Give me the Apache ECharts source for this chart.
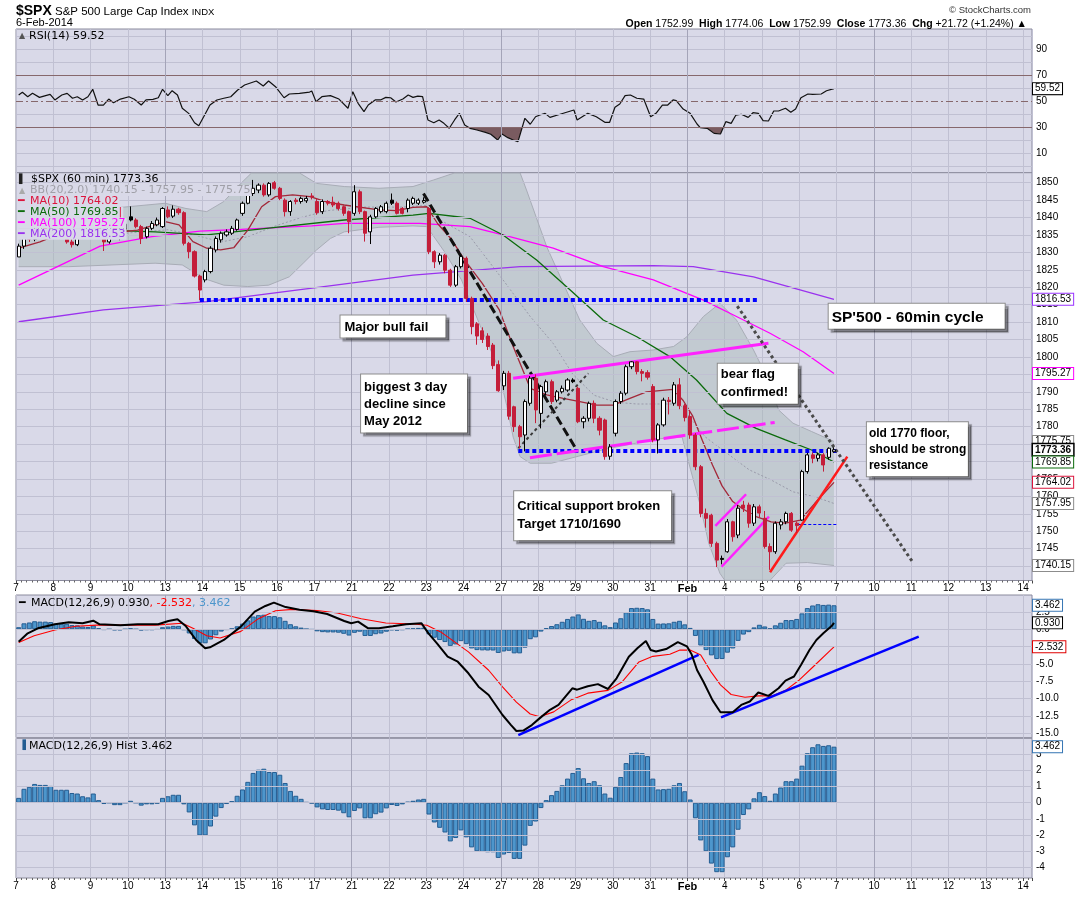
<!DOCTYPE html>
<html>
<head>
<meta charset="utf-8">
<title>$SPX 60 min</title>
<script src="https://cdn.jsdelivr.net/npm/echarts@6.0.0/dist/echarts.min.js"></script>
<style>
html,body{margin:0;padding:0;background:#ffffff;}
#chart{width:1075px;height:897px;}
</style>
</head>
<body>
<div id="chart"></div>
<script>
// ================= DATA =================
// x positions are hourly bar indexes (7 bars per trading day)
const dayLabels = ['7','8','9','10','13','14','15','16','17','21','22','23','24','27','28','29','30','31','Feb','4','5','6','7','10','11','12','13','14'];

// hourly candles [open, close, low, high]
const candles = [
  // Jan 7
  [1828.7,1831.8,1828.7,1832.5],[1831.8,1834.9,1831.0,1835.5],[1834.9,1833.8,1833.0,1836.0],[1833.8,1836.4,1833.2,1837.0],[1836.4,1839.2,1836.0,1840.1],[1839.2,1836.8,1836.2,1839.6],[1836.8,1837.9,1836.0,1838.5],
  // Jan 8
  [1837.9,1839.5,1837.2,1840.0],[1839.5,1836.0,1835.5,1839.8],[1836.0,1833.0,1832.5,1836.5],[1833.0,1832.2,1831.4,1834.0],[1832.2,1834.8,1831.8,1835.3],[1834.8,1836.0,1834.0,1836.8],[1836.0,1837.5,1835.5,1838.0],
  // Jan 9
  [1839.0,1841.5,1838.5,1843.2],[1841.5,1836.0,1835.5,1842.0],[1836.0,1833.0,1830.4,1836.5],[1833.0,1838.0,1832.5,1838.5],[1838.0,1834.8,1834.0,1838.8],[1834.8,1836.6,1833.5,1837.3],[1836.6,1838.1,1836.0,1838.8],
  // Jan 10
  [1840.2,1839.3,1838.9,1843.2],[1839.3,1837.4,1836.9,1839.8],[1837.4,1834.0,1832.4,1837.9],[1834.5,1836.9,1834.0,1837.4],[1836.9,1838.3,1836.4,1839.0],[1837.9,1839.3,1837.5,1840.0],[1837.4,1842.6,1837.0,1843.0],
  // Jan 13
  [1842.2,1840.2,1839.8,1843.2],[1840.4,1842.4,1839.9,1843.5],[1842.4,1841.4,1840.8,1842.8],[1841.4,1832.6,1832.0,1841.8],[1832.6,1830.2,1828.3,1833.0],[1830.2,1823.2,1822.8,1830.6],[1823.2,1819.2,1816.3,1823.6],
  // Jan 14
  [1822.1,1824.5,1821.4,1825.0],[1824.5,1831.2,1824.0,1831.8],[1830.7,1834.0,1830.0,1834.6],[1833.6,1835.5,1832.8,1836.0],[1835.0,1835.9,1834.5,1836.6],[1835.5,1836.9,1835.0,1837.6],[1836.6,1839.3,1836.2,1839.7],
  // Jan 15
  [1841.2,1844.1,1840.5,1844.6],[1844.1,1847.4,1843.8,1848.0],[1846.9,1848.4,1846.2,1850.8],[1847.9,1849.3,1847.0,1849.8],[1849.3,1846.5,1846.0,1849.8],[1846.5,1849.8,1846.0,1850.2],[1850.0,1848.4,1848.0,1850.5],
  // Jan 16
  [1848.4,1845.5,1845.0,1848.8],[1845.0,1841.7,1840.3,1845.5],[1841.7,1844.6,1840.5,1845.0],[1845.0,1844.6,1843.8,1845.6],[1844.6,1845.5,1844.0,1846.0],[1844.8,1845.5,1844.2,1846.2],[1846.2,1845.9,1845.2,1847.0],
  // Jan 17
  [1844.6,1841.4,1840.8,1845.5],[1841.7,1844.6,1841.0,1845.2],[1844.6,1844.1,1843.5,1845.0],[1844.4,1843.6,1843.0,1846.0],[1844.1,1842.6,1842.0,1844.6],[1843.1,1841.2,1840.5,1843.5],[1841.7,1838.8,1835.5,1842.0],
  // Jan 21
  [1841.2,1847.4,1840.5,1849.3],[1847.4,1841.7,1841.0,1848.0],[1841.7,1835.5,1833.1,1842.0],[1835.9,1840.2,1832.4,1840.8],[1840.2,1842.6,1839.8,1843.0],[1841.7,1843.1,1841.2,1843.6],[1841.7,1844.1,1841.2,1844.6],
  // Jan 22
  [1845.0,1844.1,1843.6,1846.9],[1844.1,1841.2,1840.9,1844.6],[1842.6,1841.2,1840.9,1843.0],[1842.6,1845.0,1841.5,1845.5],[1844.1,1845.5,1843.6,1846.0],[1844.1,1845.0,1843.6,1845.5],[1844.4,1844.9,1844.0,1845.8],
  // Jan 23
  [1842.6,1830.2,1829.5,1843.0],[1830.2,1827.3,1825.5,1830.6],[1827.3,1829.2,1826.5,1829.8],[1829.2,1824.9,1824.0,1829.6],[1824.9,1820.6,1820.1,1825.3],[1820.6,1825.9,1820.1,1826.4],[1825.9,1828.8,1825.4,1829.3],
  // Jan 24
  [1828.3,1816.8,1815.8,1828.8],[1816.8,1808.7,1806.5,1817.3],[1809.5,1806.0,1803.5,1810.0],[1807.5,1805.0,1804.0,1808.5],[1806.0,1803.0,1802.0,1806.8],[1803.4,1797.5,1796.5,1804.0],[1797.8,1790.3,1790.0,1799.0],
  // Jan 27
  [1791.7,1795.3,1790.5,1796.0],[1795.3,1783.0,1782.0,1796.0],[1785.7,1780.0,1778.5,1786.0],[1780.0,1777.1,1773.8,1780.5],[1777.6,1787.2,1772.9,1787.8],[1786.7,1793.9,1786.0,1794.5],[1793.9,1784.8,1781.0,1795.0],
  // Jan 28
  [1783.8,1791.5,1779.5,1792.0],[1790.0,1792.9,1789.0,1793.5],[1792.9,1787.2,1786.5,1793.5],[1787.6,1790.0,1787.0,1790.5],[1790.0,1791.0,1789.5,1791.8],[1790.5,1793.4,1790.0,1793.9],[1793.4,1792.9,1792.5,1793.9],
  // Jan 29
  [1791.0,1781.4,1781.0,1791.5],[1781.4,1782.4,1779.5,1783.0],[1782.4,1786.7,1781.5,1787.2],[1786.7,1782.4,1781.0,1787.5],[1782.4,1779.0,1777.5,1783.0],[1781.9,1771.4,1770.5,1782.3],[1771.5,1774.2,1770.5,1775.0],
  // Jan 30
  [1778.1,1787.2,1777.2,1787.8],[1787.2,1789.6,1786.5,1790.2],[1789.6,1797.2,1789.0,1797.8],[1797.2,1798.6,1796.5,1798.8],[1798.6,1795.8,1795.0,1798.8],[1795.8,1795.3,1793.0,1796.5],[1795.5,1794.2,1793.5,1796.2],
  // Jan 31
  [1791.5,1776.2,1775.5,1792.2],[1776.2,1780.5,1772.3,1781.0],[1780.5,1787.6,1780.0,1788.3],[1787.6,1787.2,1783.5,1788.5],[1786.7,1792.0,1786.0,1792.8],[1792.0,1786.0,1785.0,1793.9],[1786.0,1782.6,1781.5,1786.5],
  // Feb 3
  [1782.9,1777.6,1776.5,1784.8],[1777.6,1768.5,1767.5,1778.2],[1768.5,1755.1,1754.0,1769.0],[1755.1,1753.7,1751.0,1756.5],[1754.6,1746.5,1745.5,1755.0],[1746.5,1741.7,1739.7,1747.0],[1742.2,1741.9,1740.5,1743.0],
  // Feb 4
  [1744.1,1752.7,1743.8,1753.5],[1752.7,1748.4,1747.0,1753.0],[1748.9,1756.6,1748.0,1757.5],[1757.5,1756.6,1755.5,1758.7],[1757.5,1752.3,1751.0,1758.2],[1752.3,1757.0,1751.5,1757.8],[1757.0,1755.2,1754.0,1757.6],
  // Feb 5
  [1753.7,1745.6,1745.0,1755.8],[1745.6,1744.1,1738.9,1746.5],[1744.1,1752.3,1743.5,1752.8],[1751.8,1752.7,1750.5,1753.5],[1752.7,1755.1,1752.0,1755.6],[1755.1,1750.3,1749.8,1755.5],[1752.3,1751.6,1749.5,1752.8],
  // Feb 6
  [1753.2,1767.1,1753.0,1767.6],[1767.1,1771.9,1766.5,1772.5],[1771.9,1770.9,1769.5,1772.6],[1770.9,1771.9,1770.0,1772.5],[1771.9,1769.0,1767.1,1772.4],[1771.2,1773.8,1770.5,1774.06],[1772.8,1773.36,1772.5,1774.06]
];
// candles drawn black-filled (close below open but above previous close)
const blackCandles = [21, 70, 104, 132];

// overlays [bar index, value]
const ma10 = [[0,1831.2],[4,1833],[8,1835.5],[12,1835.5],[16,1836.5],[20,1836],[22.3,1836.4],[27.5,1838.8],[30.1,1837.9],[32.7,1833.1],[35.3,1831.2],[37.9,1830.7],[40.4,1831.4],[43,1836.4],[45.6,1843.1],[48.2,1846.0],[51.4,1846.5],[54.7,1846.0],[57.9,1844.4],[61.1,1843.6],[67.6,1842.2],[70.8,1842.0],[74,1842.9],[76.6,1843.1],[78.6,1838.3],[81.1,1834.0],[83.7,1827.8],[87,1821.1],[90.2,1813.5],[92.8,1803],[96,1791],[99.1,1789.1],[102.2,1788.1],[105.3,1787.2],[108.5,1786.2],[111.6,1786.2],[114.7,1788.1],[117.8,1790.0],[122.8,1790.7],[124.7,1787.5],[126.5,1783],[128.3,1776],[130.2,1769],[132,1763],[134,1758.5],[136,1756.3],[138.4,1754.2],[141.2,1752.7],[143.9,1752.3],[146.7,1753.2],[149.4,1758.0],[153,1764.02]];
const ma50 = [[0,1835.5],[16.5,1836.4],[25.6,1835.9],[35.3,1835.0],[48.2,1837.2],[61.1,1839.3],[74,1840.7],[77,1841.2],[84.7,1839.8],[90.9,1835.0],[97.2,1827.8],[103.5,1819.2],[109.7,1810.6],[116,1805.8],[122.2,1800.1],[127.2,1793.4],[132.9,1783.8],[138.4,1779.5],[143.9,1776.2],[148.8,1773.3],[153,1769.85]];
const ma100 = [[0,1820.6],[6,1825],[15.3,1831.8],[25,1834.5],[34,1836.1],[41.7,1836.6],[55,1837.6],[61.1,1838.3],[75.3,1838.3],[84.7,1837.4],[90.9,1835.0],[100.3,1831.2],[109.7,1825.9],[119.1,1822.1],[128.5,1816.3],[134.7,1811.6],[141,1806.8],[147.2,1801.5],[153,1795.27]];
const ma200 = [[0,1810.1],[15.9,1813.5],[35.3,1815.9],[54.7,1819.7],[74,1823.5],[94.1,1825.9],[119.1,1826.2],[126.6,1825.9],[137.9,1823.0],[153,1816.53]];
const bbUpper = [[0,1842.4],[9.4,1842.8],[19.1,1842.9],[27.5,1844.1],[31.4,1842.6],[35.3,1841.7],[38.5,1844.6],[41.7,1849.8],[43.7,1852.8],[52.7,1852.8],[55.9,1849.8],[61.1,1848.9],[67.6,1848.4],[74,1848.9],[77.9,1850.8],[81.8,1852.8],[94.1,1852.8],[95.3,1847.9],[99.1,1831.6],[102.2,1821.1],[105.3,1810.6],[108.5,1803.9],[111.6,1800.1],[114.7,1801.5],[119.1,1802.0],[122.9,1803.0],[125.4,1805.8],[128.5,1811.6],[131.6,1815.4],[134.7,1810.6],[137.9,1802.0],[140.4,1794.3],[142.6,1784.8],[145.3,1781.0],[148.8,1778.6],[153,1775.75]];
const bbLower = [[0,1825.9],[9.4,1825.9],[25.6,1826.9],[30.7,1826.4],[32.7,1824.5],[34.6,1822.6],[38.5,1820.6],[43,1820.2],[46.9,1820.6],[50.8,1823.0],[53.4,1826.9],[55.9,1830.7],[58.5,1834.0],[61.1,1835.9],[67.6,1837.2],[74,1837.6],[76.6,1837.4],[79.9,1830.2],[83.1,1822.1],[86.6,1809],[89.7,1798],[91.6,1786],[92.8,1777],[94.1,1771.4],[96,1769.5],[100,1769.5],[105,1771.5],[110,1773.5],[115,1775],[120,1776.5],[124.5,1777],[126.1,1767.6],[127.8,1758],[129.5,1746.5],[131.6,1737.9],[132.5,1735.9],[141,1735.9],[144,1740.8],[148,1741],[153,1740.15]];
const bbMiddle = [[0,1834],[10,1834.5],[20,1835.5],[28,1836.5],[33,1835],[38,1833],[43,1834.5],[48,1837.5],[53,1840],[58,1842],[65,1843],[72,1843],[77,1843.5],[79.1,1839.3],[84.7,1834.5],[90.9,1822.1],[96,1811.6],[100.3,1803.9],[104,1795],[108,1789],[112,1787],[116,1786.5],[120,1786.5],[124,1786.5],[128.8,1777.1],[132.9,1772.4],[137.1,1767.6],[141.2,1764.7],[145.3,1761.3],[149.4,1759.9],[153,1757.95]];

// RSI(14)
const rsi = [[0,54.6],[0.7,56.7],[1.7,53.3],[2.6,55.9],[3.9,52.8],[5.9,55.1],[6.8,50.8],[8.1,54.6],[9.1,55.9],[10.1,52.1],[11,53.3],[12,50.8],[13,53.3],[13.9,59.0],[14.9,46.9],[15.9,46.9],[16.9,51.5],[17.8,48.7],[19.1,51.5],[20.7,53.3],[21.7,51.3],[23,46.9],[23.9,50.8],[25.2,51.3],[26.2,52.5],[27,59.0],[28,54.1],[28.8,57.9],[29.8,54.6],[30.7,44.4],[31.9,40.5],[33,33.3],[33.8,31.0],[34.9,39.2],[35.9,46.9],[37.2,50.8],[38.5,52.1],[39.8,53.3],[41.1,58.5],[42.4,62.3],[44.6,65.4],[45.9,61.5],[46.9,65.4],[48.2,61.0],[49.8,52.5],[50.8,55.4],[52.7,55.9],[54.6,56.9],[55,57.7],[55.8,49.5],[56.9,53.3],[58.5,54.1],[60.1,51.5],[61.8,44.4],[62.7,57.2],[63.7,48.2],[64.8,41.8],[65.6,46.9],[66.9,50.8],[67.9,50.8],[68.9,52.8],[69.8,52.5],[70.8,49.2],[72.1,51.5],[73.1,54.6],[74,52.8],[74.9,53.8],[75.8,53.3],[76.8,35.4],[77.9,33.3],[78.9,35.4],[79.8,32.8],[80.8,29.0],[81.8,35.4],[82.7,40.5],[83.7,31.5],[84.7,29.0],[86,27.7],[87.6,25.9],[88.6,24.4],[89.9,20.0],[90.7,24.6],[91.8,21.8],[92.8,20.0],[93.7,18.7],[95,36.7],[96,32.1],[97,37.9],[97.8,39.2],[98.8,40.5],[99.7,37.4],[101.6,39.8],[104.2,43.1],[104.8,35.4],[106.8,40.5],[108.4,37.9],[110,33.6],[110.9,33.6],[111.9,45.2],[112.8,47.7],[113.8,54.1],[114.8,54.6],[116,52.1],[117.3,51.5],[118.6,37.9],[119.6,40.5],[120.8,46.9],[121.8,46.9],[122.8,50.8],[123.4,50.3],[124.7,43.8],[126,40.5],[127.3,32.3],[127.9,29.5],[129.2,29.0],[130.5,25.1],[131.7,24.6],[132.7,34.1],[133.7,32.8],[134.6,39.2],[135.6,39.8],[136.9,37.4],[137.8,41.0],[138.8,40.5],[139.7,34.9],[140.7,34.6],[141.7,42.3],[142.6,42.3],[143.9,44.4],[144.9,41.3],[145.8,43.8],[146.8,52.5],[148.1,55.4],[149,55.1],[150.6,55.4],[151.6,57.9],[153,59.52]];

// MACD(12,26,9)
const macdLine = [[0,-1.79],[1.7,-0.58],[3.6,0.14],[6.8,0.72],[9.4,1.0],[12,0.86],[14,1.24],[15.2,0.72],[19.1,0.58],[22.3,0.72],[26.2,0.72],[28.1,1.2],[29.8,1.44],[31.4,0.43],[33.3,-1.54],[35,-2.74],[35.9,-2.6],[38.5,-1.54],[41.7,0.38],[44.3,2.54],[46.3,3.36],[47.9,3.84],[50.1,3.2],[52.7,2.82],[55.3,2.6],[57.9,2.2],[61.1,1.2],[62.4,0.86],[63.7,1.1],[65.6,0.14],[67.6,0.14],[70.2,0.43],[72.7,0.72],[75.6,0.86],[76.9,-0.58],[78.5,-2.02],[80.5,-3.95],[82.4,-4.67],[84.4,-6.34],[86.3,-8.27],[88.2,-9.47],[90.8,-12.35],[92.4,-13.8],[93.4,-14.65],[94.7,-14.6],[96.3,-13.8],[97.8,-12.8],[99.7,-11.6],[101.3,-10.9],[103.9,-8.5],[104.8,-8.7],[106.8,-8.2],[108.7,-7.9],[110.6,-8.6],[112.2,-7.06],[114.5,-3.95],[116.1,-2.74],[117.7,-1.69],[118.6,-2.98],[119.6,-3.2],[121.5,-2.85],[123.7,-1.84],[125.4,-2.46],[126.3,-3.65],[127.3,-5.86],[128.5,-7.55],[130.2,-10.2],[131.7,-11.96],[134,-11.96],[135.6,-10.9],[137.2,-10.4],[138.8,-9.1],[140.7,-9.6],[142.6,-8.5],[143.9,-7.4],[145.5,-6.8],[146.8,-5.14],[148.4,-2.98],[149.7,-1.54],[151,-0.58],[152.6,0.5],[153,0.93]];
const signalLine = [[0,-1.9],[2.9,-0.92],[6.8,-0.1],[10.7,0.43],[14.6,0.6],[19.1,0.6],[25.6,0.6],[30.7,0.86],[32.7,0.14],[35.3,-0.92],[37.8,-1.25],[41.7,-0.3],[45,1.53],[48.2,2.68],[51.4,2.87],[56,2.7],[59.8,2.35],[64.3,1.53],[68.9,0.91],[74.1,0.77],[76.6,0.58],[79.2,-0.38],[81.8,-1.82],[84.4,-3.26],[88.2,-5.9],[90.8,-8.3],[93.4,-10.5],[96,-12.2],[97.8,-12.6],[100.4,-11.9],[103.6,-10.2],[106.8,-9.2],[110.6,-8.8],[113.2,-7.6],[116.4,-4.7],[119,-3.9],[122.2,-3.6],[124.1,-3.0],[126,-3.0],[128,-3.7],[129.9,-6.1],[131.7,-8.0],[133.7,-9.4],[136.3,-9.8],[138.8,-9.6],[141.4,-9.6],[143.9,-8.8],[146.5,-7.3],[149.1,-5.4],[153,-2.532]];
const macdHist = [
  0.3,0.86,0.98,1.16,1.1,1.1,1.04,
  0.8,0.8,0.8,0.6,0.57,0.4,0.33,
  0.57,0.16,-0.08,0,-0.15,-0.15,0.0,
  0.12,0,-0.18,-0.1,-0.1,-0.05,0.3,
  0.4,0.49,0.49,-0.1,-0.6,-1.4,-2.02,
  -2.02,-1.47,-0.86,-0.33,-0.08,0.1,0.43,
  0.82,1.29,1.84,2.04,2.1,1.9,1.9,
  1.73,1.22,0.73,0.43,0.24,0.04,-0.04,
  -0.29,-0.41,-0.45,-0.45,-0.49,-0.65,-0.9,
  -0.51,-0.35,-0.96,-0.96,-0.71,-0.61,-0.35,
  -0.14,-0.2,-0.1,0.06,0.12,0.2,0.24,
  -0.73,-1.22,-1.55,-1.84,-2.39,-2.18,-1.71,
  -2.14,-2.76,-3.0,-3.04,-3.06,-3.06,-3.41,
  -3.2,-3.1,-3.47,-3.47,-2.65,-1.43,-1.16,
  -0.33,0.16,0.47,0.73,1.08,1.49,1.84,
  2.14,1.51,1.22,1.33,1.08,0.57,0.31,
  0.98,1.59,2.45,3.06,3.1,3.06,2.88,
  1.49,0.82,0.84,0.86,1.08,1.22,0.71,
  0.2,-0.96,-2.33,-3.0,-3.76,-4.29,-4.29,
  -3.37,-2.76,-1.67,-0.76,-0.41,0.27,0.65,
  0.41,0.12,0.57,0.94,1.33,1.33,1.49,
  2.29,3.06,3.43,3.61,3.51,3.55,3.462
];

// axis tick values
const rsiTicks = [10,30,50,70,90];
const rsiGridValues = [0,10,20,30,40,50,60,70,80,90,100];
const priceTicks = [1740,1745,1750,1755,1760,1765,1770,1775,1780,1785,1790,1795,1800,1805,1810,1815,1820,1825,1830,1835,1840,1845,1850];
const macdTicks = [2.5,0,-2.5,-5,-7.5,-10,-12.5,-15];
const histTicks = [3,2,1,0,-1,-2,-3,-4];
const weekStartBars = [28,63,91,126,161];

// hand-drawn annotations (x in bar-slot units from left edge, y in price / MACD units)
const priceLines = [
  {from:[34.5,1816.3], to:[139.1,1816.3], kind:'blueDots'},
  {from:[94.26,1773.2], to:[154.06,1773.2], kind:'blueDots'},
  {from:[146.8,1752.0], to:[154.1,1752.0], kind:'blueThin'},
  {from:[76.47,1846.9], to:[105.2,1773.3], kind:'blackDash'},
  {from:[94.26,1773.8], to:[107.4,1795.3], kind:'greyDots'},
  {from:[93.3,1793.9], to:[141.2,1803.9], kind:'magenta'},
  {from:[96.45,1771.1], to:[142.37,1781.2], kind:'magentaDash'},
  {from:[131.24,1751.5], to:[137.0,1760.6], kind:'magentaThin'},
  {from:[132.4,1739.8], to:[141.3,1754.2], kind:'magentaThin'},
  {from:[141.5,1738.2], to:[156.0,1771.4], kind:'red'},
  {from:[135.35,1814.6], to:[168.2,1741.3], kind:'greyBigDots'}
];
const macdLines = [
  {from:[94.26,-15.25], to:[128.1,-3.7]},
  {from:[132.3,-12.7], to:[169.4,-1.07]}
];
const noteBoxes = [
  {at:[60.99,1811.75], text:'Major bull fail'},
  {at:[64.85,1794.82], text:'biggest 3 day\ndecline since\nMay 2012'},
  {at:[93.58,1761.33], text:'Critical support broken\nTarget 1710/1690'},
  {at:[131.79,1797.89], text:'bear flag\nconfirmed!'},
  {at:[159.77,1781.13], text:'old 1770 floor,\nshould be strong\nresistance'},
  {at:[152.6,1815.11], text:"SP'500 - 60min cycle"}
];
const priceTags = [
  {v:1816.53, c:'#9933ff'},{v:1795.27, c:'#ff00ff'},{v:1775.75, c:'#8c8c8c'},{v:1773.36, c:'#000000', bold:true},
  {v:1769.85, c:'#0b6b0b'},{v:1764.02, c:'#dc143c'},{v:1757.95, c:'#8c8c8c'},{v:1740.15, c:'#8c8c8c'}
];
const macdTags = [{v:3.462, c:'#3a78b5', t:'3.462'},{v:0.930, c:'#000000', t:'0.930'},{v:-2.532, c:'#e00000', t:'-2.532'}];

// ================= LAYOUT / STYLE =================
const FONT = 'Liberation Sans';
const LFONT = 'DejaVu Sans';
const BG = '#d9d9e8', GRIDC = '#c0c0d2', WEEKC = '#a4a4b8', BORDER = '#8a8a9c';
const SLOTS = 190.66;
const yRanges = [[-5.4,105.4],[1735.85,1852.87],[-15.62,4.94],[-4.65,3.98]];
const gridBoxes = [
  {top:29, height:144},
  {top:172.7, height:407.8},
  {top:595, height:142.7},
  {top:738.3, height:139.7}
];

const pt = arr => arr.map(p => [p[0] + 0.5, p[1]]);

function dayLabel(v) {
  const k = Math.round(v / 7);
  if (Math.abs(v - k * 7) > 1e-6 || k >= dayLabels.length) return '';
  return dayLabels[k] === 'Feb' ? '{b|Feb}' : dayLabels[k];
}

function xAxisCfg(i, labels) {
  return {
    type:'value', gridIndex:i, min:0, max:SLOTS, interval:7,
    axisLine:{show:false, onZero:false},
    axisTick:{show:labels, length:3, lineStyle:{color:'#444'}},
    minorTick:{show:labels, splitNumber:7, length:2, lineStyle:{color:'#666'}},
    splitLine:{show:true, lineStyle:{color:GRIDC, width:1}},
    minorSplitLine:{show:false},
    axisLabel:{show:labels, formatter:dayLabel, fontFamily:FONT, fontSize:10, color:'#000', margin:3,
      showMinLabel:true, showMaxLabel:true, rich:{b:{fontWeight:'bold', fontFamily:FONT, fontSize:11, color:'#000'}}}
  };
}
function yAxisCfg(i, ticks, fmt) {
  return {
    type:'value', gridIndex:i, position:'right', min:yRanges[i][0], max:yRanges[i][1],
    axisLine:{show:false}, splitLine:{show:false},
    axisTick:{show:true, customValues:ticks, length:3, lineStyle:{color:'#444'}},
    axisLabel:{show:true, customValues:ticks, formatter:fmt, fontFamily:FONT, fontSize:10, color:'#000', margin:4}
  };
}
function gridLineSeries(i, values, special) {
  const mid = (yRanges[i][0] + yRanges[i][1]) / 2;
  return {
    type:'line', xAxisIndex:i, yAxisIndex:i, data:[[0, mid]], symbol:'none', lineStyle:{opacity:0}, silent:true, z:1,
    markLine:{silent:true, symbol:'none', animation:false, label:{show:false},
      data: values.map(v => ({yAxis:v, lineStyle:(special && special[v]) ? special[v] : {color:GRIDC, width:1, type:'solid'}}))
        .concat(weekStartBars.map(w => ({xAxis:w, lineStyle:{color:WEEKC, width:1, type:'solid'}})))}
  };
}
function tagSeries(i, list) {
  const mid = (yRanges[i][0] + yRanges[i][1]) / 2;
  return {
    type:'line', xAxisIndex:i, yAxisIndex:i, data:[[0, mid]], symbol:'none', lineStyle:{width:0, color:'rgba(0,0,0,0)'}, silent:true, z:30, clip:false,
    markLine:{silent:true, symbol:'none', animation:false, lineStyle:{width:0, color:'rgba(0,0,0,0)', opacity:1},
      data: list.map(t => ({yAxis:t.v, label:{show:true, position:'end', distance:1,
        formatter:t.t || t.v.toFixed(2), color:'#000', fontWeight:t.bold ? 'bold' : 'normal', opacity:1,
        backgroundColor:'#ffffff', borderColor:t.c, borderWidth:t.bold ? 1.5 : 1, padding:[1,2,0,2],
        fontSize:10, fontFamily:FONT}}))}
  };
}

const lineKinds = {
  blueDots:{color:'#0000ff', width:4, type:[4,3]},
  blueThin:{color:'#0000ff', width:1.2, type:[3,2]},
  blackDash:{color:'#111111', width:3, type:[9,4]},
  greyDots:{color:'#3a3a3a', width:2, type:[3,3]},
  magenta:{color:'#ff22ff', width:3, type:'solid'},
  magentaDash:{color:'#ff22ff', width:3, type:[22,5]},
  magentaThin:{color:'#ff22ff', width:2.5, type:'solid'},
  red:{color:'#ff1a1a', width:2.5, type:'solid'},
  greyBigDots:{color:'#4a4a4a', width:3, type:[3,3]}
};
const boxStyles = [
  {w:107, h:24, fs:13, lh:16, pad:[4,4,2,4]},
  {w:108, h:60, fs:13, lh:17, pad:[4,4,3,3]},
  {w:159, h:51, fs:13, lh:18, pad:[6,4,7,3]},
  {w:82, h:42, fs:13, lh:18, pad:[2,4,2,3]},
  {w:103, h:56, fs:12, lh:16.3, pad:[3,4,2,2]},
  {w:178, h:27, fs:15.5, lh:19, pad:[4,4,2,3]}
];

const candleData = candles.map((c, i) => {
  const item = {value:[i + 0.5, c[0], c[1], c[2], c[3]]};
  if (blackCandles.indexOf(i) >= 0) item.itemStyle = {color:'#000', color0:'#000', borderColor:'#000', borderColor0:'#000'};
  return item;
});
const histData = macdHist.map((v, i) => [i + 0.5, v]);

const series = [
  // ---- RSI panel
  gridLineSeries(0, rsiGridValues, {
    30:{color:'#86686c', width:1, type:'solid'},
    70:{color:'#86686c', width:1, type:'solid'},
    50:{color:'#86686c', width:1, type:[7,3,2,3]}
  }),
  {type:'line', xAxisIndex:0, yAxisIndex:0, data:pt(rsi), symbol:'none', silent:true, z:2,
    lineStyle:{width:0}, areaStyle:{origin:30, opacity:1}},
  {type:'line', xAxisIndex:0, yAxisIndex:0, data:pt(rsi), symbol:'none', silent:true, z:3,
    lineStyle:{color:'#111', width:1.2}},
  tagSeries(0, [{v:59.52, c:'#000', t:'59.52'}]),
  // ---- price panel
  gridLineSeries(1, priceTicks),
  {type:'custom', xAxisIndex:1, yAxisIndex:1, data:[[0, 1800]], silent:true, z:2,
    renderItem:function (params, api) {
      const pts = pt(bbUpper).map(p => api.coord(p)).concat(pt(bbLower).reverse().map(p => api.coord(p)));
      return {type:'polygon', shape:{points:pts}, style:{fill:'rgba(166,184,182,0.45)'}};
    }},
  {type:'line', xAxisIndex:1, yAxisIndex:1, data:pt(bbUpper), symbol:'none', silent:true, z:3, lineStyle:{color:'#a8acb6', width:1}},
  {type:'line', xAxisIndex:1, yAxisIndex:1, data:pt(bbLower), symbol:'none', silent:true, z:3, lineStyle:{color:'#a8acb6', width:1}},
  {type:'line', xAxisIndex:1, yAxisIndex:1, data:pt(bbMiddle), symbol:'none', silent:true, z:3, lineStyle:{color:'#9a9aaa', width:1, type:[2,2]}},
  {type:'line', xAxisIndex:1, yAxisIndex:1, data:pt(ma200), symbol:'none', silent:true, z:4, lineStyle:{color:'#9a32ee', width:1.3}},
  {type:'line', xAxisIndex:1, yAxisIndex:1, data:pt(ma100), symbol:'none', silent:true, z:4, lineStyle:{color:'#ff00ff', width:1.3}},
  {type:'line', xAxisIndex:1, yAxisIndex:1, data:pt(ma50), symbol:'none', silent:true, z:4, lineStyle:{color:'#0b6b0b', width:1.3}},
  {type:'line', xAxisIndex:1, yAxisIndex:1, data:pt(ma10), symbol:'none', silent:true, z:4, lineStyle:{color:'#a3283a', width:1.3}},
  {type:'candlestick', xAxisIndex:1, yAxisIndex:1, data:candleData, encode:{x:0, y:[1,2,3,4]}, barWidth:3.6, silent:true, z:6,
    itemStyle:{color:'#ffffff', color0:'#c41e3a', borderColor:'#000000', borderColor0:'#c41e3a', borderWidth:1}},
  {type:'line', xAxisIndex:1, yAxisIndex:1, data:[[0, 1800]], symbol:'none', lineStyle:{opacity:0}, silent:true, z:10,
    markLine:{silent:true, symbol:'none', animation:false, label:{show:false},
      data: priceLines.map(l => [{coord:l.from, lineStyle:Object.assign({cap:'butt'}, lineKinds[l.kind])}, {coord:l.to}])},
    markPoint:{silent:true, animation:false, symbol:'rect', symbolSize:1, itemStyle:{color:'rgba(0,0,0,0)'},
      data: noteBoxes.map((b, k) => {
        const s = boxStyles[k];
        return {coord:b.at, label:{show:true, position:[0,0], align:'left', verticalAlign:'top', formatter:b.text,
          backgroundColor:'#ffffff', borderColor:'#8c8c8c', borderWidth:1, padding:s.pad,
          width:s.w - 2 - s.pad[1] - s.pad[3], height:s.h - 2 - s.pad[0] - s.pad[2], lineHeight:s.lh,
          fontSize:s.fs, fontWeight:'bold', fontFamily:FONT, color:'#000',
          shadowColor:'rgba(0,0,0,0.35)', shadowOffsetX:3, shadowOffsetY:3, shadowBlur:1}};
      })}},
  tagSeries(1, priceTags),
  // ---- MACD panel
  gridLineSeries(2, macdTicks),
  {type:'bar', xAxisIndex:2, yAxisIndex:2, data:histData, barWidth:5, silent:true, z:2,
    itemStyle:{color:'#4d96cc', borderColor:'#245d92', borderWidth:1}},
  {type:'line', xAxisIndex:2, yAxisIndex:2, data:pt(signalLine), symbol:'none', silent:true, z:4, lineStyle:{color:'#ff0000', width:1.1}},
  {type:'line', xAxisIndex:2, yAxisIndex:2, data:pt(macdLine), symbol:'none', silent:true, z:5, lineStyle:{color:'#000000', width:2}},
  {type:'line', xAxisIndex:2, yAxisIndex:2, data:[[0, 0]], symbol:'none', lineStyle:{opacity:0}, silent:true, z:8,
    markLine:{silent:true, symbol:'none', animation:false, label:{show:false},
      data: macdLines.map(l => [{coord:l.from, lineStyle:{color:'#0000ff', width:2.5, type:'solid'}}, {coord:l.to}])}},
  tagSeries(2, macdTags),
  // ---- Histogram panel
  gridLineSeries(3, histTicks),
  {type:'bar', xAxisIndex:3, yAxisIndex:3, data:histData, barWidth:5, silent:true, z:2,
    itemStyle:{color:'#4d96cc', borderColor:'#245d92', borderWidth:1}},
  tagSeries(3, [{v:3.462, c:'#3a78b5', t:'3.462'}])
];

function txt(x, y, text, font, fill, extra) {
  return {type:'text', x:x, y:y, z:100, zlevel:0, silent:true,
    style:Object.assign({text:text, font:font, fill:fill, verticalAlign:'middle', align:'left'}, extra || {})};
}
const L11 = '11px "' + LFONT + '"';
const BGBOX = {backgroundColor:BG, padding:[0,1,0,1]};
const graphics = [
  txt(16, 11, '$SPX', 'bold 14px "' + FONT + '"', '#000'),
  txt(55, 12, '{a|S&P 500 Large Cap Index} {b|INDX}', '11px "' + FONT + '"', '#000',
    {rich:{a:{fontSize:11.5, fontFamily:FONT, fill:'#000'}, b:{fontSize:9.5, fontFamily:FONT, fill:'#000'}}}),
  txt(16, 23, '6-Feb-2014', '11px "' + FONT + '"', '#000'),
  txt(1031, 10, '\u00A9 StockCharts.com', '9.5px "' + FONT + '"', '#333', {align:'right'}),
  txt(1027, 24, '{b|Open} 1752.99  {b|High} 1774.06  {b|Low} 1752.99  {b|Close} 1773.36  {b|Chg} +21.72 (+1.24%) \u25B2',
    '10.5px "' + FONT + '"', '#000', {align:'right', rich:{b:{fontWeight:'bold', fontSize:10.5, fontFamily:FONT, fill:'#000'}}}),
  // RSI legend
  txt(19, 36, '\u25B2', '8px "' + LFONT + '"', '#555'),
  txt(29, 36, 'RSI(14) 59.52', L11, '#000'),
  // price legend
  txt(19, 179.3, '\u258C', '9px "' + LFONT + '"', '#222'),
  txt(31, 179.3, '$SPX (60 min) 1773.36', L11, '#000'),
  txt(19, 190.5, '\u25B2', '8px "' + LFONT + '"', '#aaaaaa'),
  txt(29, 190.5, 'BB(20,2.0) 1740.15 - 1757.95 - 1775.75', L11, '#a0a0a8', BGBOX),
  txt(17, 201.5, '{l|\u2501}{t|MA(10) 1764.02}', L11, '#dc143c',
    Object.assign({rich:{l:{fontSize:11, fontFamily:LFONT, fill:'#dc143c', width:12}, t:{fontSize:11, fontFamily:LFONT, fill:'#dc143c'}}}, BGBOX)),
  txt(17, 212.5, '{l|\u2501}{g|MA(50) 1769.85}{r||}', L11, '#0b6b0b',
    Object.assign({rich:{l:{fontSize:11, fontFamily:LFONT, fill:'#0b6b0b', width:12}, g:{fontSize:11, fontFamily:LFONT, fill:'#0b6b0b'}, r:{fontSize:11, fontFamily:LFONT, fill:'#dc143c'}}}, BGBOX)),
  txt(17, 223.3, '{l|\u2501}{t|MA(100) 1795.27}', L11, '#ff00ff',
    Object.assign({rich:{l:{fontSize:11, fontFamily:LFONT, fill:'#ff00ff', width:12}, t:{fontSize:11, fontFamily:LFONT, fill:'#ff00ff'}}}, BGBOX)),
  txt(17, 234.3, '{l|\u2501}{t|MA(200) 1816.53}', L11, '#9a32ee',
    Object.assign({rich:{l:{fontSize:11, fontFamily:LFONT, fill:'#9a32ee', width:12}, t:{fontSize:11, fontFamily:LFONT, fill:'#9a32ee'}}}, BGBOX)),
  // MACD legend
  txt(19, 602.7, '\u2501', L11, '#000'),
  txt(31, 602.7, '{k|MACD(12,26,9) 0.930}{r|, -2.532}{b|, 3.462}', L11, '#000',
    {rich:{k:{fontSize:11, fontFamily:LFONT, fill:'#000'}, r:{fontSize:11, fontFamily:LFONT, fill:'#ff0000'}, b:{fontSize:11, fontFamily:LFONT, fill:'#4d96cc'}}}),
  // Histogram legend
  txt(19, 745.8, '\u2590', '9px "' + LFONT + '"', '#245d92'),
  txt(29, 745.8, 'MACD(12,26,9) Hist 3.462', L11, '#000')
];

const option = {
  animation:false,
  backgroundColor:'#ffffff',
  textStyle:{fontFamily:FONT},
  grid: gridBoxes.map(g => ({left:16, right:43, top:g.top, height:g.height, show:true,
    backgroundColor:BG, borderColor:BORDER, borderWidth:1})),
  xAxis:[xAxisCfg(0,false), xAxisCfg(1,true), xAxisCfg(2,false), xAxisCfg(3,true)],
  yAxis:[
    yAxisCfg(0, rsiTicks, v => String(v)),
    yAxisCfg(1, priceTicks, v => String(v)),
    yAxisCfg(2, macdTicks, v => Number(v).toFixed(1)),
    yAxisCfg(3, histTicks, v => String(v))
  ],
  visualMap:[{type:'piecewise', show:false, seriesIndex:1, dimension:1,
    pieces:[{gte:-10, lt:30, color:'#7a5b60'}, {gte:30, lte:110, color:'rgba(122,91,96,0)'}]}],
  series: series,
  graphic: graphics
};

const chart = echarts.init(document.getElementById('chart'));
chart.setOption(option);
</script>
</body>
</html>
